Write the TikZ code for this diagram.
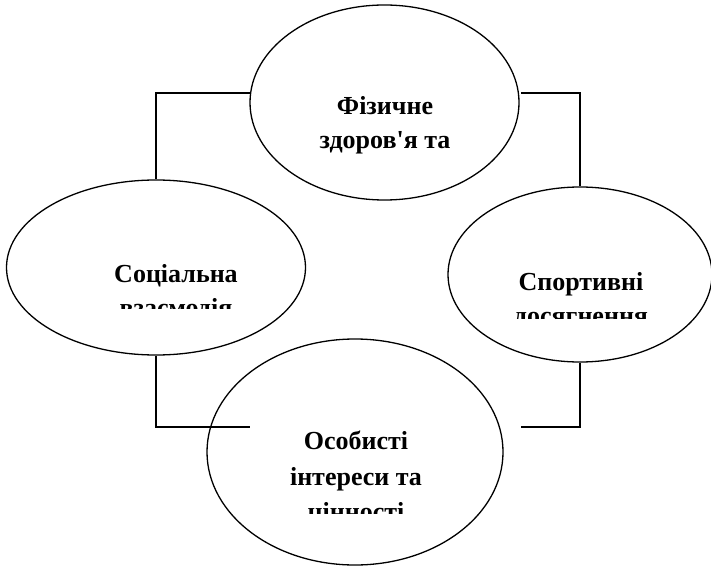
\documentclass[tikz,border=0pt]{standalone}
\usepackage{fontspec}
\setmainfont{Liberation Serif}[Ligatures=TeXOff]
\usetikzlibrary{shapes.geometric}
\begin{document}
\begin{tikzpicture}[x=1pt,y=-1pt,
  oval/.style={draw,ellipse,line width=1.3pt,inner sep=0pt},
  conn/.style={draw,line width=1.3pt},
  lbl/.style={anchor=base,inner sep=0pt,font=\fontsize{26}{32}\selectfont\bfseries}]
\useasboundingbox (0,0) rectangle (711,569);
% ellipses
\node[oval,minimum width=269pt,minimum height=195pt] (top) at (384.5,102.5) {};
\node[oval,minimum width=299pt,minimum height=175pt] (left) at (156,267.5) {};
\node[oval,minimum width=264pt,minimum height=175pt] (right) at (580,274.5) {};
\node[oval,minimum width=296pt,minimum height=226pt] (bottom) at (355,452) {};
% connector ends
\coordinate (tl) at (250,93);
\coordinate (tr) at (521,93);
\coordinate (bl) at (250,427);
\coordinate (br) at (521,427);
\draw[conn] (tl) -| (left.north);
\draw[conn] (tr) -| (right.north);
\draw[conn] (left.south) |- (bl);
\draw[conn] (right.south) |- (br);
% texts
\node[lbl] (t1) at (385,115) {Фізичне};
\node[lbl] (t2) at (385,149) {здоров'я та};
\begin{scope}
\clip (40,230) rectangle (300,308);
\node[lbl] (l1) at (176,282) {Соціальна};
\node[lbl] (l2) at (176,316) {взаємодія};
\end{scope}
\begin{scope}
\clip (460,240) rectangle (700,318);
\node[lbl] (r1) at (581,290) {Спортивні};
\node[lbl] (r2) at (581,324) {досягнення};
\end{scope}
\begin{scope}
\clip (230,400) rectangle (480,513);
\node[lbl] (b1) at (356,449) {Особисті};
\node[lbl] (b2) at (356,485) {інтереси та};
\node[lbl] (b3) at (356,520) {цінності};
\end{scope}
\end{tikzpicture}
\end{document}
